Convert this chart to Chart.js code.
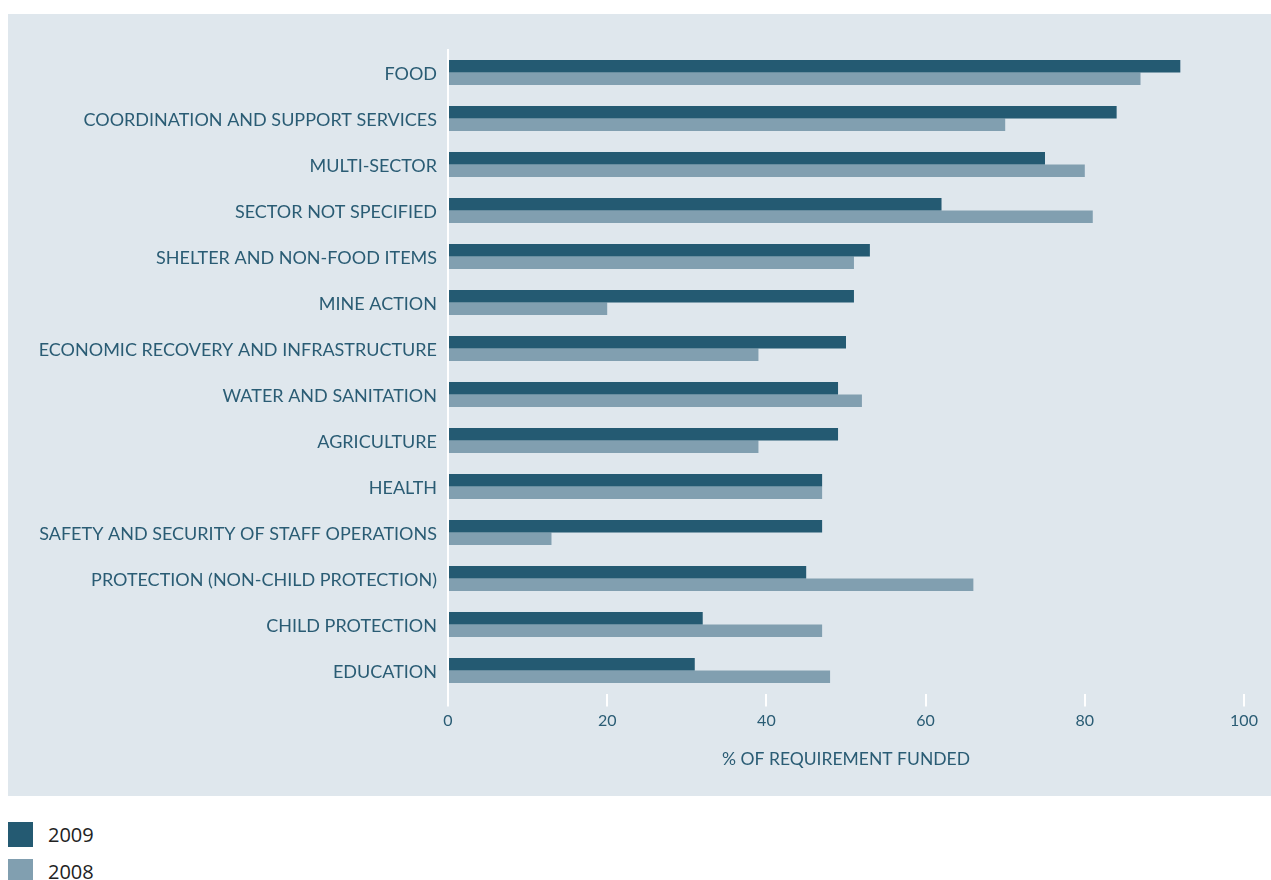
<!DOCTYPE html>
<html>
<head>
<meta charset="utf-8">
<script src="https://cdn.jsdelivr.net/npm/chart.js@4"></script>
<style>
  html, body { margin: 0; padding: 0; background: #ffffff; }
  body { width: 1271px; height: 880px; position: relative; overflow: hidden; }
  #wrap { position: absolute; left: 8px; top: 14px; width: 1263px; height: 782px; background: #dfe7ed; }
  #legend { position: absolute; left: 8px; top: 816px; font-family: "Open Sans", "Noto Sans", sans-serif; font-size: 20px; color: #222; }
  .li { display: flex; align-items: center; height: 37px; }
  .sw { width: 25px; height: 25px; margin-right: 15px; }
</style>
</head>
<body>
<div id="wrap"><canvas id="c" width="1263" height="782"></canvas></div>
<div id="legend"></div>
<script>
const categories = [
  "FOOD",
  "COORDINATION AND SUPPORT SERVICES",
  "MULTI-SECTOR",
  "SECTOR NOT SPECIFIED",
  "SHELTER AND NON-FOOD ITEMS",
  "MINE ACTION",
  "ECONOMIC RECOVERY AND INFRASTRUCTURE",
  "WATER AND SANITATION",
  "AGRICULTURE",
  "HEALTH",
  "SAFETY AND SECURITY OF STAFF OPERATIONS",
  "PROTECTION (NON-CHILD PROTECTION)",
  "CHILD PROTECTION",
  "EDUCATION"
];
const values2009 = [92, 84, 75, 62, 53, 51, 50, 49, 49, 47, 47, 45, 32, 31];
const values2008 = [87, 70, 80, 81, 51, 20, 39, 52, 39, 47, 13, 66, 47, 48];
const seriesNames = ["2009", "2008"];
const xTicks = [0, 20, 40, 60, 80, 100];
const axisTitle = "% OF REQUIREMENT FUNDED";

const dark = "#245a72";
const light = "#819fb0";
const textCol = "#2a5c74";
const labelFont = '"Lato", "Open Sans", sans-serif';

const chart = new Chart(document.getElementById("c"), {
  type: "bar",
  data: {
    labels: categories,
    datasets: [
      { label: seriesNames[0], data: values2009, backgroundColor: dark, borderWidth: 0 },
      { label: seriesNames[1], data: values2008, backgroundColor: light, borderWidth: 0 }
    ]
  },
  options: {
    indexAxis: "y",
    responsive: false,
    animation: false,
    maintainAspectRatio: false,
    layout: { padding: { top: 35.5, right: 27, bottom: 0, left: 0 } },
    datasets: { bar: { categoryPercentage: 25 / 46, barPercentage: 1 } },
    plugins: { legend: { display: false }, tooltip: { enabled: false } },
    scales: {
      x: {
        min: 0, max: 100,
        afterBuildTicks: (s) => { s.ticks = xTicks.map(v => ({ value: v })); },
        afterFit: (s) => { s.height = 102.5; },
        grid: { display: true, drawOnChartArea: false, drawTicks: true, tickLength: 13, color: "#ffffff", lineWidth: 2 },
        border: { display: false },
        ticks: { color: textCol, font: { family: labelFont, size: 16 }, padding: 5, maxRotation: 0 },
        title: { display: true, text: axisTitle, color: textCol, font: { family: labelFont, size: 17.5 }, padding: { top: 0, bottom: 26 } }
      },
      y: {
        afterFit: (s) => { s.width = 440; },
        grid: { display: false, drawTicks: false },
        border: { display: true, color: "#ffffff", width: 2 },
        ticks: { color: textCol, font: { family: labelFont, size: 18 }, padding: 11, labelOffset: 2, autoSkip: false }
      }
    }
  }
});

const legend = document.getElementById("legend");
chart.data.datasets.forEach(ds => {
  const row = document.createElement("div");
  row.className = "li";
  const sw = document.createElement("span");
  sw.className = "sw";
  sw.style.background = ds.backgroundColor;
  const t = document.createElement("span");
  t.textContent = ds.label;
  row.appendChild(sw); row.appendChild(t);
  legend.appendChild(row);
});
</script>
</body>
</html>
